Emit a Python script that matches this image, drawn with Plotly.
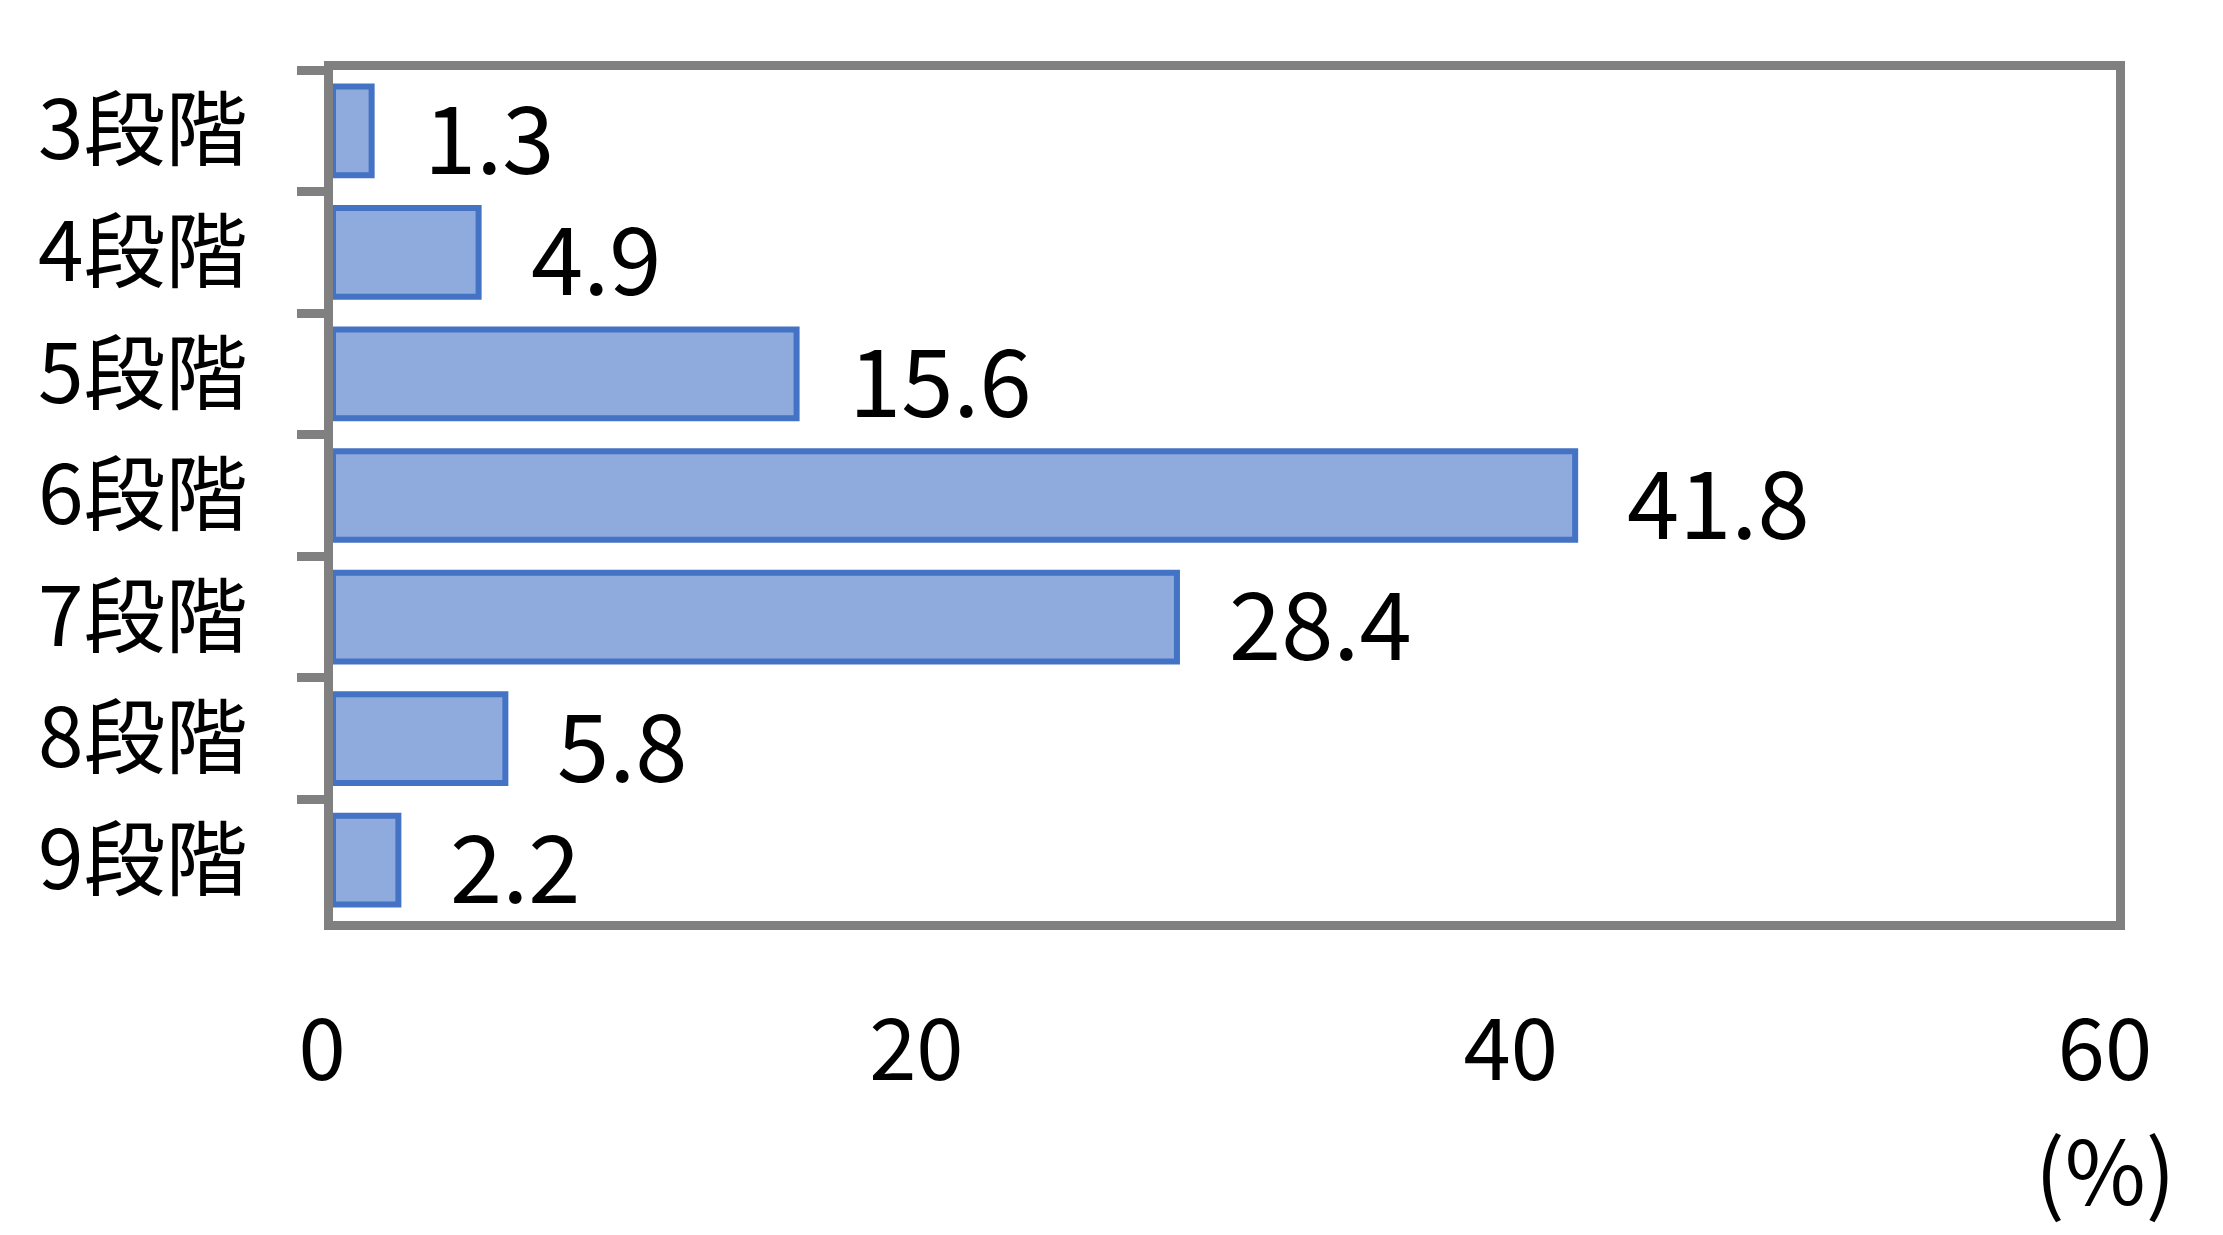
import plotly.graph_objects as go

categories = ["3段階", "4段階", "5段階", "6段階", "7段階", "8段階", "9段階"]
values = [1.3, 4.9, 15.6, 41.8, 28.4, 5.8, 2.2]
x_ticks = [0, 20, 40, 60]
unit_label = "(%)"

FONT = "Noto Sans CJK JP"
GREY = "#808080"

fig = go.Figure()
fig.add_trace(go.Bar(
    x=values, y=categories, orientation="h",
    marker=dict(color="#8FAADC", line=dict(color="#4472C4", width=6)),
    hoverinfo="skip",
))

for c, v in zip(categories, values):
    fig.add_annotation(x=v, y=c, xref="x", yref="y", text=f"{v:.1f}",
                       showarrow=False, xanchor="left", yanchor="middle",
                       xshift=50, yshift=-2,
                       font=dict(family=FONT, size=94, color="black"))

fig.add_annotation(x=60, y=-0.288, xref="x", yref="paper", text=unit_label,
                   showarrow=False, xanchor="center", yanchor="middle",
                   xshift=-11, font=dict(family=FONT, size=88, color="black"))

fig.update_layout(
    width=2223, height=1235,
    margin=dict(l=325, r=115, t=62, b=322),
    plot_bgcolor="white", paper_bgcolor="white",
    showlegend=False, bargap=0.27,
    font=dict(family=FONT, size=80, color="black"),
)
fig.update_xaxes(
    range=[0, 60], tickvals=x_ticks, ticktext=[str(t) for t in x_ticks],
    showgrid=False, zeroline=False,
    showline=True, linecolor=GREY, linewidth=9, mirror=True,
    ticks="", ticklabelstandoff=48, ticklabelshift=-11,
    tickfont=dict(family=FONT, size=85, color="black"),
)
fig.update_yaxes(
    type="category", categoryorder="array", categoryarray=categories,
    range=[len(categories) - 0.5, -0.5],
    showgrid=False, zeroline=False,
    showline=True, linecolor=GREY, linewidth=9, mirror=True,
    ticks="outside", tickson="boundaries", ticklen=27, tickwidth=9, tickcolor=GREY,
    ticklabelstandoff=60,
    tickfont=dict(family=FONT, size=82, color="black"),
)

fig.write_html("out.html")
